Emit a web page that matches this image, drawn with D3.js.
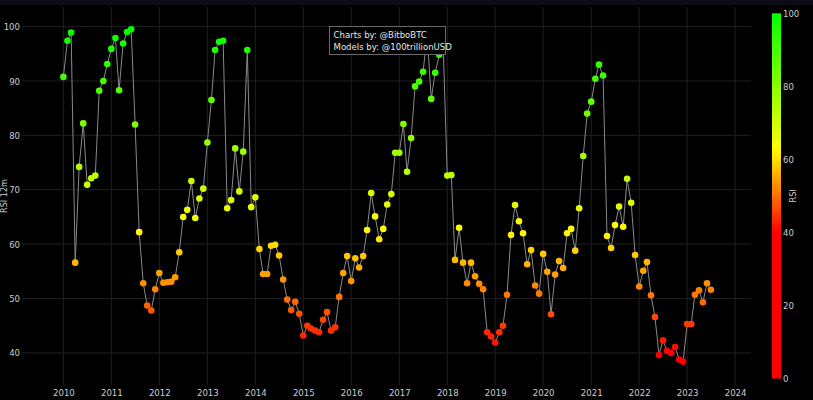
<!DOCTYPE html>
<html>
<head>
<meta charset="utf-8">
<script src="https://cdn.jsdelivr.net/npm/d3@7"></script>
<style>
html,body{margin:0;padding:0;background:#000;}
svg{display:block;}
text{font-family:"Liberation Sans Narrow","DejaVu Sans Condensed",Roboto,sans-serif;}
</style>
</head>
<body>
<svg id="chart" width="813" height="400"></svg>
<script>
// ---- data (monthly, starting Jan 2010) ----
const startYear = 2010;
const rsi2010 = [90.75, 97.4, 98.9, 56.6, 74.2, 82.2, 70.9, 72.1, 72.6, 88.2, 90.0, 93.1];
const rsi2011 = [95.9, 97.9, 88.3, 96.9, 99.0, 99.5, 82.0, 62.2, 52.8, 48.7, 47.8, 51.7];
const rsi2012 = [54.7, 52.9, 53.0, 53.1, 53.9, 58.5, 65.0, 66.3, 71.6, 64.8, 68.4, 70.2];
const rsi2013 = [78.7, 86.5, 95.7, 97.2, 97.4, 66.6, 68.1, 77.6, 69.7, 77.0, 95.7, 66.8];
const rsi2014 = [68.6, 59.1, 54.5, 54.5, 59.7, 59.9, 57.9, 53.5, 49.8, 47.9, 49.4, 47.2];
const rsi2015 = [43.2, 45.0, 44.5, 44.1, 43.8, 46.1, 47.5, 44.1, 44.7, 50.3, 54.7, 57.8];
const rsi2016 = [53.2, 57.4, 55.7, 57.8, 62.6, 69.4, 65.1, 60.9, 62.8, 67.3, 69.2, 76.8];
const rsi2017 = [76.8, 82.1, 73.3, 79.5, 89.0, 89.9, 91.7, 98.5, 86.7, 91.5, 94.8, 96.5];
const rsi2018 = [72.6, 72.7, 57.1, 63.0, 56.6, 52.8, 56.6, 54.1, 52.7, 51.7, 43.8, 43.0];
const rsi2019 = [41.9, 43.8, 45.0, 50.7, 61.7, 67.2, 64.2, 62.0, 56.3, 58.9, 52.4, 50.9];
const rsi2020 = [58.2, 54.9, 47.1, 54.4, 56.9, 55.6, 62.0, 62.8, 58.8, 66.6, 76.2, 84.0];
const rsi2021 = [86.2, 90.4, 93.0, 91.0, 61.5, 59.3, 63.5, 66.9, 63.2, 72.0, 67.6, 58.0];
const rsi2022 = [52.2, 55.1, 56.7, 50.6, 46.6, 39.6, 42.3, 40.4, 40.0, 41.1, 38.8, 38.4];
const rsi2023 = [45.3, 45.3, 50.7, 51.5, 49.3, 52.8, 51.6];

const yTicks = [40, 50, 60, 70, 80, 90, 100];
const xTickYears = d3.range(2010, 2025);
const cbTicks = [0, 20, 40, 60, 80, 100];
const colorStops = [0, 40, 63, 100];
const colorStopColors = ["#ff0000", "#ff0000", "#ffff00", "#00ff00"];
const credits = ["Charts by: @BitboBTC", "Models by: @100trillionUSD"];

const allValues = [].concat(rsi2010, rsi2011, rsi2012, rsi2013, rsi2014, rsi2015, rsi2016,
  rsi2017, rsi2018, rsi2019, rsi2020, rsi2021, rsi2022, rsi2023);
const data = allValues.map((v, i) => ({date: new Date(startYear + Math.floor(i / 12), i % 12, 1), v}));

// ---- layout ----
const svg = d3.select("#chart");
const W = 813, H = 400;
const plot = {l: 22, r: 751, t: 7, b: 385};
const FONT = '"Liberation Sans Narrow","DejaVu Sans Condensed",Roboto,sans-serif';

svg.append("rect").attr("width", W).attr("height", H).attr("fill", "#000");
svg.append("rect").attr("width", W).attr("height", 5).attr("fill", "#0c0c16");

const x = d3.scaleTime().domain([new Date(2009, 1, 20), new Date(2024, 4, 1)]).range([plot.l, plot.r]);
const y = d3.scaleLinear().domain([34.1, 103.6]).range([plot.b, plot.t]);
const color = d3.scaleLinear().domain(colorStops).range(colorStopColors).clamp(true);

// grid
const grid = svg.append("g");
grid.selectAll(".gx").data(xTickYears).enter().append("line")
  .attr("x1", d => x(new Date(d, 0, 1))).attr("x2", d => x(new Date(d, 0, 1)))
  .attr("y1", plot.t).attr("y2", plot.b)
  .attr("stroke", "#1f1f1f").attr("stroke-width", 1);
grid.selectAll(".gy").data(yTicks).enter().append("line")
  .attr("x1", plot.l).attr("x2", plot.r)
  .attr("y1", d => y(d)).attr("y2", d => y(d))
  .attr("stroke", "#1f1f1f").attr("stroke-width", 1);

// axes labels
const xAxis = d3.axisBottom(x).tickValues(xTickYears.map(d => new Date(d, 0, 1)))
  .tickFormat(d3.timeFormat("%Y")).tickSize(0).tickPadding(0);
const gx = svg.append("g").attr("transform", `translate(0,${plot.b + 4})`).call(xAxis);
gx.select(".domain").remove();
gx.selectAll("text").attr("fill", "#cccccc").attr("font-size", 9.5).style("font-family", FONT);

const yAxis = d3.axisLeft(y).tickValues(yTicks).tickSize(0).tickPadding(0);
const gy = svg.append("g").attr("transform", `translate(${plot.l - 2},0)`).call(yAxis);
gy.select(".domain").remove();
gy.selectAll("text").attr("fill", "#cccccc").attr("font-size", 9.5).style("font-family", FONT);

svg.append("text")
  .attr("transform", `translate(7,${(plot.t + plot.b) / 2}) rotate(-90)`)
  .attr("text-anchor", "middle").attr("fill", "#cccccc").attr("font-size", 9)
  .text("RSI 12m");

// line + points
svg.append("clipPath").attr("id", "clip").append("rect")
  .attr("x", plot.l).attr("y", plot.t).attr("width", plot.r - plot.l).attr("height", plot.b - plot.t);
const gData = svg.append("g").attr("clip-path", "url(#clip)");
gData.append("path").datum(data)
  .attr("d", d3.line().x(d => x(d.date)).y(d => y(d.v)))
  .attr("fill", "none").attr("stroke", "#8a8a8a").attr("stroke-width", 1);
gData.selectAll("circle").data(data).enter().append("circle")
  .attr("cx", d => x(d.date)).attr("cy", d => y(d.v)).attr("r", 3.3)
  .attr("fill", d => color(d.v));

// credits box
const box = svg.append("g").attr("transform", "translate(329.5,26.5)");
box.append("rect").attr("width", 116).attr("height", 28)
  .attr("fill", "#000").attr("stroke", "#6a6a6a").attr("stroke-width", 1);
box.selectAll("text").data(credits).enter().append("text")
  .attr("x", 4).attr("y", (d, i) => 11.5 + i * 11.7)
  .attr("fill", "#e8e8e8").attr("font-size", 9.5).text(d => d);

// colorbar
const cb = {x: 772, w: 9, t: 13.3, b: 378.5};
const cy = d3.scaleLinear().domain([0, 100]).range([cb.b, cb.t]);
const grad = svg.append("defs").append("linearGradient").attr("id", "cbgrad")
  .attr("x1", 0).attr("y1", 1).attr("x2", 0).attr("y2", 0);
d3.range(0, 101, 2).forEach(v => {
  grad.append("stop").attr("offset", v / 100).attr("stop-color", color(v));
});
svg.append("rect").attr("x", cb.x).attr("y", cb.t).attr("width", cb.w).attr("height", cb.b - cb.t)
  .attr("fill", "url(#cbgrad)");
const cAxis = d3.axisRight(cy).tickValues(cbTicks).tickSize(0).tickPadding(0);
const gc = svg.append("g").attr("transform", `translate(${cb.x + cb.w + 2},0)`).call(cAxis);
gc.select(".domain").remove();
gc.selectAll("text").attr("fill", "#cccccc").attr("font-size", 9.5).style("font-family", FONT);
svg.append("text")
  .attr("transform", `translate(796,${(cb.t + cb.b) / 2}) rotate(-90)`)
  .attr("text-anchor", "middle").attr("fill", "#cccccc").attr("font-size", 9)
  .text("RSI");
</script>
</body>
</html>
